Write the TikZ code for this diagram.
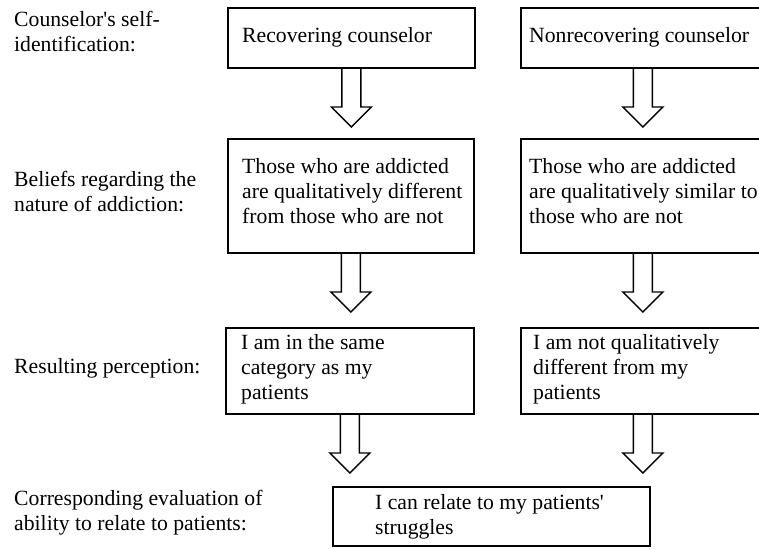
\documentclass[tikz,border=0pt]{standalone}
\usepackage{fontspec}
\setmainfont{Liberation Serif}[Ligatures=TeXOff]
\usetikzlibrary{calc}
\newcommand\blockarrow[2]{%
  \draw[blk] let \p1=(#1), \p2=(#2) in
    (\x1-9.5pt,\y1) -- (\x1-9.5pt,\y2+20pt) -- (\x1-20pt,\y2+20pt) -- (\x1,\y2)
    -- (\x1+20pt,\y2+20pt) -- (\x1+9.5pt,\y2+20pt) -- (\x1+9.5pt,\y1);}
\begin{document}
\begin{tikzpicture}[x=1pt,y=-1pt,
  box/.style={draw, line width=1.8pt, anchor=north west, inner sep=0pt},
  txt/.style={anchor=west, align=left, inner sep=0pt, font=\fontsize{21.7}{25}\selectfont},
  blk/.style={draw, line width=1.4pt, line join=miter}]
\useasboundingbox (0,0) rectangle (759,549);
\clip (0,0) rectangle (759,549);
% boxes
\node[box, minimum width=247pt, minimum height=60pt]  (b1) at (227,7) {};
\node[box, minimum width=244pt, minimum height=60pt]  (b2) at (520,7) {};
\node[box, minimum width=246pt, minimum height=114pt] (b3) at (227,138) {};
\node[box, minimum width=244pt, minimum height=114pt] (b4) at (520,138) {};
\node[box, minimum width=248pt, minimum height=86pt]  (b5) at (225,327) {};
\node[box, minimum width=244pt, minimum height=86pt]  (b6) at (520,327) {};
\node[box, minimum width=317pt, minimum height=59pt]  (b7) at (332,486) {};
% box texts
\node[txt] (t1) at ($(b1.west)+(15,-1)$) {Recovering counselor};
\node[txt] (t2) at ($(b2.west)+(9,-1)$) {Nonrecovering counselor};
\node[txt] (t3) at ($(b3.west)+(15,-5)$) {Those who are addicted\\are qualitatively different\\from those who are not};
\node[txt] (t4) at ($(b4.west)+(9,-5)$) {Those who are addicted\\are qualitatively similar to\\those who are not};
\node[txt] (t5) at ($(b5.west)+(16,-2)$) {I am in the same\\category as my\\patients};
\node[txt] (t6) at ($(b6.west)+(13,-2)$) {I am not qualitatively\\different from my\\patients};
\node[txt] (t7) at ($(b7.west)+(43,0)$) {I can relate to my patients'\\struggles};
% left labels
\node[txt] (l1) at (14,32)  {Counselor's self-\\identification:};
\node[txt] (l2) at (14,192) {Beliefs regarding the\\nature of addiction:};
\node[txt] (l3) at (14,368) {Resulting perception:};
\node[txt] (l4) at (14,513) {Corresponding evaluation of\\ability to relate to patients:};
% block arrows
\blockarrow{b1.south}{$(b3.north)+(0,-11)$}
\blockarrow{b2.south}{$(b4.north)+(0,-11)$}
\blockarrow{b3.south}{$(b5.north)+(0,-15)$}
\blockarrow{b4.south}{$(b6.north)+(0,-15)$}
\blockarrow{b5.south}{$(b7.north)+(0,-13)$}
\blockarrow{b6.south}{$(b7.north)+(0,-13)$}
\end{tikzpicture}
\end{document}
